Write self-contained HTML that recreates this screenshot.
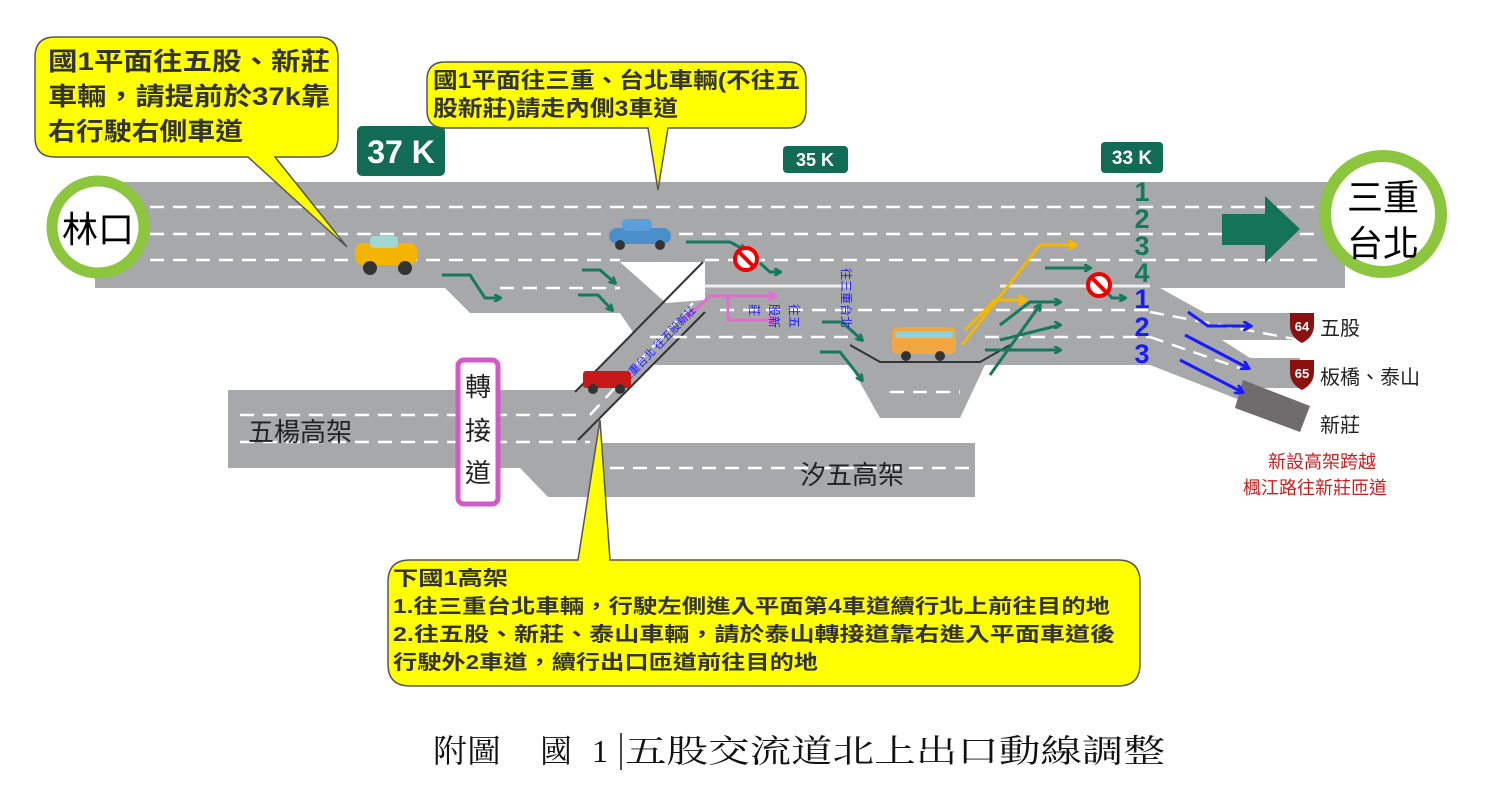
<!DOCTYPE html>
<html><head><meta charset="utf-8"><style>
html,body{margin:0;padding:0;background:#fff;}
svg{display:block;font-family:"Liberation Sans","Noto Sans CJK TC",sans-serif;}
</style></head><body>
<svg width="1485" height="806" viewBox="0 0 1485 806" xmlns="http://www.w3.org/2000/svg">
<defs>
<marker id="ag" markerWidth="8" markerHeight="8" refX="6" refY="4" orient="auto" markerUnits="userSpaceOnUse"><path d="M0,0 L7,4 L0,8" fill="none" stroke="#16795c" stroke-width="2.5"/></marker>
<marker id="ab" markerWidth="10" markerHeight="10" refX="7" refY="5" orient="auto" markerUnits="userSpaceOnUse"><path d="M0,0 L8,5 L0,10" fill="none" stroke="#1a1aff" stroke-width="3"/></marker>
<marker id="ay" markerWidth="10" markerHeight="10" refX="7" refY="5" orient="auto" markerUnits="userSpaceOnUse"><path d="M0,0 L8,5 L0,10" fill="none" stroke="#f5b700" stroke-width="3"/></marker>
<marker id="ap" markerWidth="10" markerHeight="10" refX="7" refY="5" orient="auto" markerUnits="userSpaceOnUse"><path d="M0,0 L8,5 L0,10" fill="none" stroke="#e070d0" stroke-width="3"/></marker>
</defs>
<g fill="#a6a8aa">
<rect x="95" y="182" width="1250" height="106"/>
<polygon points="445,288 1150,288 1150,365 985,365 960,418 880,418 850,365 655,365 620,313 470,313"/>
<polygon points="1150,288 1160,288 1205,313 1300,313 1300,340 1222,340 1250,358 1300,358 1300,388 1255,388 1240,400 1150,365"/>
<rect x="228" y="390" width="372" height="78"/>
<polygon points="520,443 975,443 975,497 548,497 520,468"/>
<polygon points="575,392 703,262 705,312 578,440"/>
</g>
<polygon points="620,262 705,262 705,300 666,303" fill="#fff"/>
<polygon points="1243,380 1310,406 1300,432 1235,408" fill="#6e6c6c"/>
<line x1="575" y1="392" x2="703" y2="262" stroke="#333" stroke-width="2"/>
<line x1="578" y1="440" x2="705" y2="312" stroke="#333" stroke-width="2"/>
<polyline points="850,345 880,362 980,362 1010,345" fill="none" stroke="#333" stroke-width="2"/>
<g stroke="#fff" stroke-width="2.5" stroke-dasharray="14,9" fill="none">
<line x1="150" y1="207" x2="1320" y2="207"/>
<line x1="150" y1="234" x2="1320" y2="234"/>
<line x1="150" y1="260" x2="620" y2="260"/>
<line x1="705" y1="260" x2="1320" y2="260"/>
<line x1="500" y1="288" x2="620" y2="288"/>
<line x1="720" y1="310" x2="1150" y2="310"/>
<line x1="650" y1="337" x2="850" y2="337"/>
<line x1="985" y1="337" x2="1150" y2="337"/>
<line x1="890" y1="392" x2="960" y2="392"/>
<line x1="240" y1="415" x2="580" y2="415"/>
<line x1="240" y1="442" x2="590" y2="442"/>
<line x1="610" y1="468" x2="975" y2="468"/>
<line x1="1150" y1="312" x2="1300" y2="340"/>
<line x1="1150" y1="337" x2="1245" y2="370"/>
<line x1="590" y1="415" x2="705" y2="290"/>
</g>
<line x1="705" y1="286" x2="850" y2="286" stroke="#eee" stroke-width="3"/>
<line x1="1000" y1="286" x2="1150" y2="286" stroke="#eee" stroke-width="3"/>
<circle cx="98" cy="227" r="46" fill="#fff" stroke="#8cc63e" stroke-width="11"/>
<text x="98" y="242" font-size="36" text-anchor="middle">林口</text>
<circle cx="1383" cy="214" r="58" fill="#fff" stroke="#8cc63e" stroke-width="12"/>
<text x="1383" y="210" font-size="36" text-anchor="middle">三重</text>
<text x="1383" y="256" font-size="36" text-anchor="middle">台北</text>
<polygon points="1222,214 1265,214 1265,196 1300,229 1265,263 1265,245 1222,245" fill="#15735a"/>
<rect x="357" y="126" width="88" height="50" rx="5" fill="#116b55"/>
<text x="401" y="163" font-size="32" font-weight="bold" fill="#fff" text-anchor="middle">37 K</text>
<rect x="783" y="146" width="65" height="27" rx="4" fill="#116b55"/>
<text x="815" y="166" font-size="18" font-weight="bold" fill="#fff" text-anchor="middle">35 K</text>
<rect x="1101" y="142" width="62" height="31" rx="4" fill="#116b55"/>
<text x="1132" y="164" font-size="19" font-weight="bold" fill="#fff" text-anchor="middle">33 K</text>
<g font-size="27" font-weight="bold" text-anchor="middle">
<text x="1142" y="201" fill="#16795c">1</text>
<text x="1142" y="228" fill="#16795c">2</text>
<text x="1142" y="255" fill="#16795c">3</text>
<text x="1142" y="282" fill="#16795c">4</text>
<text x="1142" y="308" fill="#1a1aff">1</text>
<text x="1142" y="336" fill="#1a1aff">2</text>
<text x="1142" y="363" fill="#1a1aff">3</text>
</g>
<g fill="none" stroke="#16795c" stroke-width="3" marker-end="url(#ag)">
<polyline points="442,275 470,275 485,298 500,298"/>
<polyline points="582,270 600,270 615,283"/>
<polyline points="578,295 598,295 612,310"/>
<polyline points="686,242 730,242 745,250"/>
<polyline points="760,263 770,272 780,272"/>
<polyline points="822,322 842,322 862,340"/>
<polyline points="820,352 840,352 862,380"/>
<polyline points="1045,268 1090,268"/>
<polyline points="1105,290 1112,298 1125,298"/>
<polyline points="1000,325 1030,302 1060,302"/>
<polyline points="1000,340 1060,325 1060,325"/>
<polyline points="985,350 1060,350"/>
<polyline points="990,375 1040,305"/>
</g>
<g fill="none" stroke="#f5b700" stroke-width="3" marker-end="url(#ay)">
<polyline points="962,345 1040,245 1075,245"/>
<polyline points="965,330 995,300 1025,300"/>
</g>
<g fill="none" stroke="#1a1aff" stroke-width="3" marker-end="url(#ab)">
<polyline points="1188,312 1208,326 1250,326"/>
<polyline points="1185,335 1248,368"/>
<polyline points="1180,360 1242,392"/>
</g>
<g fill="none" stroke="#e070d0" stroke-width="3" marker-end="url(#ap)">
<polyline points="682,322 710,296 775,296"/>
<polyline points="728,296 728,320 775,320"/>
</g>
<g><circle cx="746" cy="259" r="11" fill="#fff" stroke="#e00" stroke-width="4"/><line x1="739" y1="252" x2="753" y2="266" stroke="#e00" stroke-width="4"/></g>
<g><circle cx="1099" cy="285" r="11" fill="#fff" stroke="#e00" stroke-width="4"/><line x1="1092" y1="278" x2="1106" y2="292" stroke="#e00" stroke-width="4"/></g>
<g font-size="12" fill="#1a1aff">
<text transform="translate(842,268) rotate(90)">往三重台北</text>
<text transform="translate(790,304) rotate(90)">往五</text>
<text transform="translate(770,304) rotate(90)">股新</text>
<text transform="translate(750,304) rotate(90)">莊</text>
<text transform="translate(618,392) rotate(-46)" font-size="11">往三重台北 往五股新莊</text>
</g>
<g>
<rect x="355" y="243" width="62" height="22" rx="8" fill="#f5b400"/>
<rect x="370" y="236" width="28" height="12" rx="4" fill="#9fd8d0"/>
<circle cx="370" cy="268" r="7" fill="#333"/><circle cx="405" cy="268" r="7" fill="#333"/>
<rect x="609" y="228" width="62" height="16" rx="8" fill="#4a8fcc"/>
<rect x="622" y="219" width="30" height="12" rx="5" fill="#5a9fdc"/>
<circle cx="620" cy="245" r="5" fill="#333"/><circle cx="660" cy="245" r="5" fill="#333"/>
<rect x="583" y="371" width="48" height="17" rx="3" fill="#c81818"/>
<circle cx="593" cy="389" r="5" fill="#333"/><circle cx="620" cy="389" r="5" fill="#333"/>
<rect x="913" y="312" width="18" height="14" fill="#a6a8aa"/>
<rect x="892" y="327" width="64" height="27" rx="5" fill="#f2a640"/>
<rect x="895" y="331" width="58" height="7" fill="#8fd0d8"/>
<circle cx="906" cy="356" r="5" fill="#333"/><circle cx="940" cy="356" r="5" fill="#333"/>
</g>
<g font-size="13" font-weight="bold" fill="#fff" text-anchor="middle">
<path d="M1290,313 h24 v12 q0,12 -12,18 q-12,-6 -12,-18 z" fill="#8b1010"/>
<text x="1302" y="331">64</text>
<path d="M1290,360 h24 v12 q0,12 -12,18 q-12,-6 -12,-18 z" fill="#8b1010"/>
<text x="1302" y="378">65</text>
</g>
<g font-size="20" fill="#222">
<text x="1320" y="335">五股</text>
<text x="1320" y="384">板橋、泰山</text>
<text x="1320" y="432">新莊</text>
</g>
<g font-size="18" fill="#c81e1e" text-anchor="middle">
<text x="1322" y="468">新設高架跨越</text>
<text x="1315" y="494">楓江路往新莊匝道</text>
</g>
<text x="248" y="441" font-size="26" fill="#222">五楊高架</text>
<text x="800" y="484" font-size="26" fill="#222">汐五高架</text>
<rect x="458" y="360" width="40" height="144" rx="6" fill="#fff" stroke="#d25ac8" stroke-width="5"/>
<g font-size="26" fill="#222" text-anchor="middle">
<text x="478" y="396">轉</text><text x="478" y="440">接</text><text x="478" y="482">道</text>
</g>
<g fill="#ffff00" stroke="#555" stroke-width="1.5">
<path d="M55,37 H318 Q338,37 338,57 V137 Q338,157 318,157 H275 L347,247 L248,157 H55 Q35,157 35,137 V57 Q35,37 55,37 Z"/>
<path d="M445,62 H788 Q806,62 806,80 V110 Q806,128 788,128 H668 L658,190 L648,128 H445 Q427,128 427,110 V80 Q427,62 445,62 Z"/>
<path d="M410,560 H578 L600,420 L610,560 H1118 Q1140,560 1140,582 V664 Q1140,686 1118,686 H410 Q388,686 388,664 V582 Q388,560 410,560 Z"/>
</g>
<g font-size="25" font-weight="bold" fill="#333" lengthAdjust="spacingAndGlyphs">
<text x="48" y="70" textLength="282" lengthAdjust="spacingAndGlyphs">國1平面往五股、新莊</text>
<text x="48" y="105" textLength="282" lengthAdjust="spacingAndGlyphs">車輛，請提前於37k靠</text>
<text x="48" y="140" textLength="195" lengthAdjust="spacingAndGlyphs">右行駛右側車道</text>
</g>
<g font-size="22" font-weight="bold" fill="#333">
<text x="433" y="88" textLength="367" lengthAdjust="spacingAndGlyphs">國1平面往三重、台北車輛(不往五</text>
<text x="433" y="116" textLength="245" lengthAdjust="spacingAndGlyphs">股新莊)請走內側3車道</text>
</g>
<g font-size="20" font-weight="bold" fill="#333">
<text x="393" y="585" textLength="115" lengthAdjust="spacingAndGlyphs">下國1高架</text>
<text x="393" y="613" textLength="717" lengthAdjust="spacingAndGlyphs">1.往三重台北車輛，行駛左側進入平面第4車道續行北上前往目的地</text>
<text x="393" y="641" textLength="722" lengthAdjust="spacingAndGlyphs">2.往五股、新莊、泰山車輛，請於泰山轉接道靠右進入平面車道後</text>
<text x="393" y="669" textLength="425" lengthAdjust="spacingAndGlyphs">行駛外2車道，續行出口匝道前往目的地</text>
</g>
<g font-size="32" fill="#111" font-family="'Liberation Serif','Noto Serif CJK SC',serif">
<text x="433" y="762" textLength="68" lengthAdjust="spacingAndGlyphs">附圖</text>
<text x="540" y="762">國</text>
<text x="592" y="762">1</text>
<text x="625" y="762" textLength="540" lengthAdjust="spacingAndGlyphs">五股交流道北上出口動線調整</text>
</g>
<line x1="621" y1="733" x2="621" y2="770" stroke="#111" stroke-width="1.5"/>
</svg>
</body></html>
